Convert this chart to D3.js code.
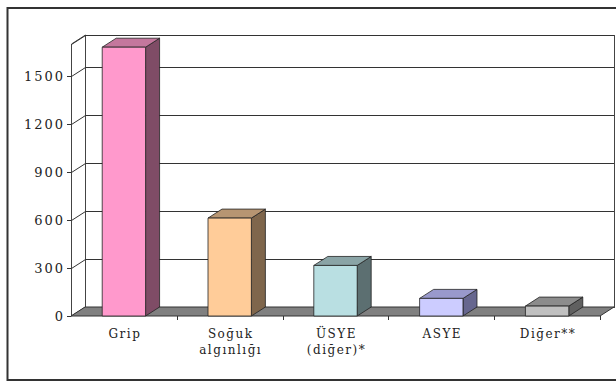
<!DOCTYPE html>
<html>
<head>
<meta charset="utf-8">
<script src="https://cdn.jsdelivr.net/npm/d3@7"></script>
<style>
  html, body { margin: 0; padding: 0; background: #fff; }
  svg { display: block; }
</style>
</head>
<body>
<div id="chart"></div>
<script>
// data
const categories = [['Grip'], ['Soğuk', 'algınlığı'], ['ÜSYE', '(diğer)*'], ['ASYE'], ['Diğer**']];
const values = [1680, 612, 316, 110, 62];
const yTicks = [0, 300, 600, 900, 1200, 1500];
const yMax = 1700;

const fronts = ['#ff99cc', '#ffcc99', '#b9dfe2', '#ccccff', '#c0c0c0'];
const sides  = ['#7f4c66', '#7f664c', '#5c6f71', '#66668f', '#606060'];
const tops   = ['#c4779d', '#b79572', '#8aa4a6', '#9999cc', '#8c8c8c'];

const font = "DejaVu Serif";

const width = 616, height = 382;
const dx = 14, dy = -9;   // depth offset front -> back wall

const svg = d3.select('#chart').append('svg')
  .attr('width', width)
  .attr('height', height);

// outer frame
svg.append('rect')
  .attr('x', 7.5).attr('y', 8)
  .attr('width', 620).attr('height', 372)
  .attr('fill', 'none')
  .attr('stroke', '#333')
  .attr('stroke-width', 2);

const x = d3.scaleBand()
  .domain(d3.range(categories.length))
  .range([71, 600])
  .paddingInner(0.59)
  .paddingOuter(0.295);

const y = d3.scaleLinear()
  .domain([0, yMax])
  .range([316, 44]);

const x0 = x.range()[0], x1 = x.range()[1];
const yb = v => y(v) + dy;

// back wall
svg.append('rect')
  .attr('x', x0 + dx + 0.5).attr('y', yb(yMax) + 0.5)
  .attr('width', x1 - x0).attr('height', y(0) - y(yMax))
  .attr('fill', '#fff')
  .attr('stroke', '#444')
  .attr('stroke-width', 1);

// left side wall
svg.append('path')
  .attr('d', `M${x0 + 0.5},${y(yMax)} L${x0 + dx + 0.5},${yb(yMax)} L${x0 + dx + 0.5},${yb(0)} L${x0 + 0.5},${y(0)}Z`)
  .attr('fill', '#fff')
  .attr('stroke', '#444')
  .attr('stroke-width', 1);

// gridlines on both walls
const grid = svg.append('g').attr('stroke', '#333').attr('stroke-width', 1).attr('fill', 'none');
grid.selectAll('path')
  .data(yTicks.filter(d => d > 0).concat([yMax]))
  .join('path')
  .attr('d', d => `M${x0 + 0.5},${Math.round(y(d)) + 0.5} L${x0 + dx + 0.5},${Math.round(yb(d)) + 0.5} L${x1 + dx},${Math.round(yb(d)) + 0.5}`);

// floor
svg.append('path')
  .attr('d', `M${x0},${y(0)} L${x1},${y(0)} L${x1 + dx},${yb(0)} L${x0 + dx},${yb(0)}Z`)
  .attr('fill', '#808080')
  .attr('stroke', '#333')
  .attr('stroke-width', 1);

// y axis ticks + labels
const yAxis = svg.append('g');
yAxis.selectAll('line')
  .data(yTicks)
  .join('line')
  .attr('x1', x0 - 4).attr('x2', x0)
  .attr('y1', d => Math.round(y(d)) + 0.5).attr('y2', d => Math.round(y(d)) + 0.5)
  .attr('stroke', '#333');
yAxis.selectAll('text')
  .data(yTicks)
  .join('text')
  .attr('x', x0 - 6)
  .attr('y', d => y(d))
  .attr('dy', '0.35em')
  .attr('text-anchor', 'end')
  .style('font-family', font)
  .attr('font-size', 13)
  .attr('letter-spacing', 2)
  .attr('fill', '#222')
  .text(d => d);

// category tick marks
svg.append('g').selectAll('line')
  .data(d3.range(1, categories.length + 1))
  .join('line')
  .attr('x1', i => Math.round(x0 + i * x.step()) + 0.5)
  .attr('x2', i => Math.round(x0 + i * x.step()) + 0.5)
  .attr('y1', y(0)).attr('y2', y(0) + 4)
  .attr('stroke', '#333');

// 3D bars
const bars = svg.append('g')
  .selectAll('g')
  .data(values)
  .join('g')
  .attr('stroke', '#222')
  .attr('stroke-width', 0.8)
  .attr('stroke-linejoin', 'round');

bars.append('path')
  .attr('fill', (d, i) => sides[i])
  .attr('d', (d, i) => {
    const r = x(i) + x.bandwidth();
    return `M${r},${y(d)} L${r + dx},${yb(d)} L${r + dx},${yb(0)} L${r},${y(0)}Z`;
  });
bars.append('path')
  .attr('fill', (d, i) => tops[i])
  .attr('d', (d, i) => {
    const l = x(i), r = x(i) + x.bandwidth();
    return `M${l},${y(d)} L${l + dx},${yb(d)} L${r + dx},${yb(d)} L${r},${y(d)}Z`;
  });
bars.append('rect')
  .attr('fill', (d, i) => fronts[i])
  .attr('x', (d, i) => x(i))
  .attr('y', d => y(d))
  .attr('width', x.bandwidth())
  .attr('height', d => y(0) - y(d));

// category labels
svg.append('g').selectAll('text')
  .data(categories)
  .join('text')
  .attr('x', (d, i) => x(i) + x.bandwidth() / 2 + 1)
  .attr('y', 338)
  .attr('text-anchor', 'middle')
  .style('font-family', font)
  .attr('font-size', 12)
  .attr('letter-spacing', 1.5)
  .attr('fill', '#222')
  .selectAll('tspan')
  .data(d => d)
  .join('tspan')
  .attr('x', function () { return this.parentNode.getAttribute('x'); })
  .attr('dy', (d, j) => j === 0 ? 0 : 16)
  .text(d => d);
</script>
</body>
</html>
